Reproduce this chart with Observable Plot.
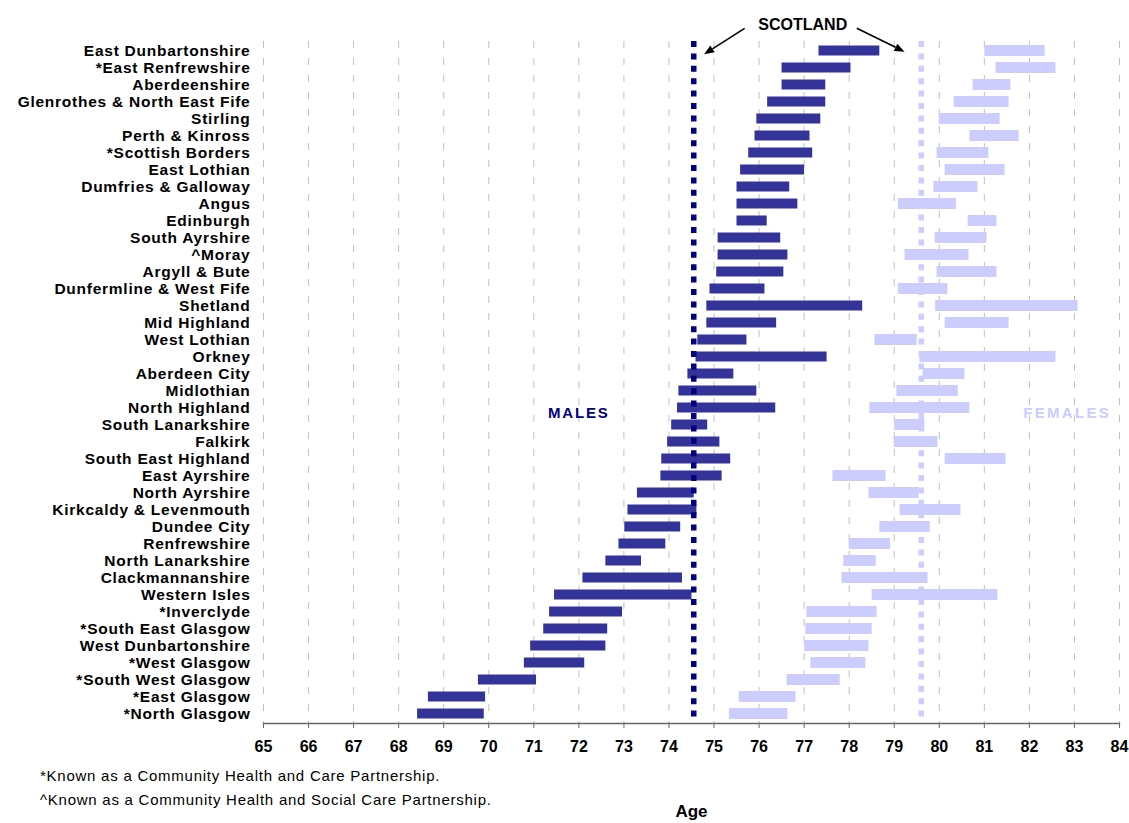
<!DOCTYPE html>
<html><head><meta charset="utf-8">
<script src="https://cdn.jsdelivr.net/npm/d3@7"></script>
<script src="https://cdn.jsdelivr.net/npm/@observablehq/plot@0.6"></script>
<style>
body{margin:0;background:#fff;font-family:"Liberation Sans",Arial,sans-serif;}
#wrap{position:relative;width:1129px;height:823px;}
.note{position:absolute;left:40px;font-size:15px;letter-spacing:0.75px;color:#000;line-height:16px;white-space:nowrap;}
</style></head><body><div id="wrap"></div>
<script>
const areas = ["East Dunbartonshire","*East Renfrewshire","Aberdeenshire","Glenrothes & North East Fife","Stirling","Perth & Kinross","*Scottish Borders","East Lothian","Dumfries & Galloway","Angus","Edinburgh","South Ayrshire","^Moray","Argyll & Bute","Dunfermline & West Fife","Shetland","Mid Highland","West Lothian","Orkney","Aberdeen City","Midlothian","North Highland","South Lanarkshire","Falkirk","South East Highland","East Ayrshire","North Ayrshire","Kirkcaldy & Levenmouth","Dundee City","Renfrewshire","North Lanarkshire","Clackmannanshire","Western Isles","*Inverclyde","*South East Glasgow","West Dunbartonshire","*West Glasgow","*South West Glasgow","*East Glasgow","*North Glasgow"];
const maleLow  = [77.33,76.51,76.51,76.19,75.95,75.91,75.77,75.59,75.51,75.51,75.51,75.09,75.09,75.06,74.91,74.84,74.84,74.64,74.60,74.42,74.22,74.19,74.06,73.97,73.84,73.82,73.30,73.09,73.02,72.89,72.60,72.09,71.46,71.35,71.22,70.93,70.79,69.77,68.66,68.42];
const maleHigh = [78.68,78.04,77.48,77.48,77.37,77.13,77.19,77.01,76.68,76.86,76.18,76.48,76.64,76.55,76.13,78.30,76.39,75.73,77.51,75.44,75.95,76.37,74.86,75.13,75.37,75.18,74.56,74.62,74.26,73.93,73.39,74.30,74.51,72.97,72.64,72.60,72.13,71.06,69.93,69.90];
const femaleLow  = [81.01,81.26,80.75,80.33,80.00,80.68,79.95,80.13,79.88,79.09,80.64,79.91,79.24,79.95,79.09,79.92,80.13,78.57,79.57,79.64,79.06,78.46,79.01,79.00,80.13,77.64,78.44,79.13,78.68,78.00,77.88,77.84,78.51,77.06,77.04,77.01,77.15,76.62,75.56,75.34];
const femaleHigh = [82.35,82.59,81.59,81.55,81.35,81.77,81.10,81.46,80.86,80.38,81.28,81.06,80.66,81.28,80.19,83.08,81.55,79.51,82.59,80.57,80.42,80.68,79.68,79.97,81.48,78.82,79.55,80.48,79.80,78.92,78.60,79.75,81.30,78.62,78.51,78.44,78.37,77.80,76.82,76.64];
const scotlandMale = 74.55;
const scotlandFemale = 79.6;
const xTicks = [65,66,67,68,69,70,71,72,73,74,75,76,77,78,79,80,81,82,83,84];
const footnotes = ["*Known as a Community Health and Care Partnership.","^Known as a Community Health and Social Care Partnership."];
// annotation arrows (x in years)
const arrowTail = [75.69, 78.18];
const arrowHead = [74.79, 79.24];

const rows = areas.map((a,i)=>({area:a, mLow:maleLow[i], mHigh:maleHigh[i], fLow:femaleLow[i], fHigh:femaleHigh[i]}));
const font = "Liberation Sans, Arial, sans-serif";

const plot = Plot.plot({
  width: 1129, height: 823,
  marginLeft: 263, marginRight: 10, marginTop: 41, marginBottom: 100,
  x: {domain: [65, 84]},
  y: {domain: areas, padding: 0},
  style: {fontFamily: font, background: "white", color: "#000"},
  marks: [
    Plot.ruleX(xTicks, {stroke: "#c0c0c0", strokeWidth: 1, strokeDasharray: "7,10"}),
    Plot.barX(rows, {y: "area", x1: "mLow", x2: "mHigh", fill: "#333399", insetTop: 3.5, insetBottom: 3.5}),
    Plot.barX(rows, {y: "area", x1: "fLow", x2: "fHigh", fill: "#CCCCFF", insetTop: 3, insetBottom: 3}),
    Plot.ruleX([scotlandMale], {stroke: "#000080", strokeWidth: 5.5, strokeDasharray: "6,6.4"}),
    Plot.ruleX([scotlandFemale], {stroke: "#CCCCFF", strokeWidth: 5.5, strokeDasharray: "6,6.4"}),
    Plot.axisY({tickSize: 0, tickPadding: 13, fontSize: 15.5, fontWeight: "bold", label: null}),
    Plot.axisX({ticks: xTicks, tickFormat: d3.format("d"), tickSize: 5, tickPadding: 12, fontSize: 16, fontWeight: "bold", label: null, stroke: "#666"}),
    Plot.frame({anchor: "bottom", stroke: "#666", strokeWidth: 1.5}),
    Plot.text(["Age"], {frameAnchor: "bottom", dy: 93, fontSize: 17, fontWeight: "bold", fill: "#000"}),
    Plot.text(["SCOTLAND"], {x: [76.97], frameAnchor: "top", dy: -23, fontSize: 16, fontWeight: "bold", fill: "#000"})
  ]
});
document.getElementById("wrap").appendChild(plot);

const xs = plot.scale("x"), ys = plot.scale("y");
const svg = d3.select(plot);
svg.selectAll('g[aria-label="y-axis tick label"] text').style("letter-spacing", "0.75px");
const bw = ys.bandwidth;
// group labels
const labels = [
  {text: "MALES", x: 72.01, fill: "#000080", ls: "1.8px"},
  {text: "FEMALES", x: 82.85, fill: "#CCCCFF", ls: "2.3px"}
];
labels.forEach(l => {
  svg.append("text")
    .attr("x", xs.apply(l.x))
    .attr("y", ys.apply("North Highland") + bw/2 + 5)
    .attr("dy", "0.35em")
    .attr("text-anchor", "middle")
    .attr("fill", l.fill)
    .attr("font-size", 15)
    .attr("font-weight", "bold")
    .attr("font-family", font)
    .style("letter-spacing", l.ls)
    .text(l.text);
});
// arrows
const tailY = 28.3, headY = [54.3, 51.7];
arrowTail.forEach((t,i) => {
  const x1 = xs.apply(t), y1 = tailY, x2 = xs.apply(arrowHead[i]), y2 = headY[i];
  const ang = Math.atan2(y2-y1, x2-x1), L = 10, W = 4;
  const bx = x2 - L*Math.cos(ang), by = y2 - L*Math.sin(ang);
  svg.append("line").attr("x1", x1).attr("y1", y1).attr("x2", bx).attr("y2", by)
    .attr("stroke", "#000").attr("stroke-width", 1.6);
  const px = -Math.sin(ang)*W, py = Math.cos(ang)*W;
  svg.append("polygon")
    .attr("points", `${x2},${y2} ${bx+px},${by+py} ${bx-px},${by-py}`)
    .attr("fill", "#000");
});

const wrap = document.getElementById("wrap");
footnotes.forEach((f,i) => {
  const d = document.createElement("div");
  d.className = "note";
  d.style.top = (768 + i*24) + "px";
  d.textContent = f;
  wrap.appendChild(d);
});
</script>
</body></html>
